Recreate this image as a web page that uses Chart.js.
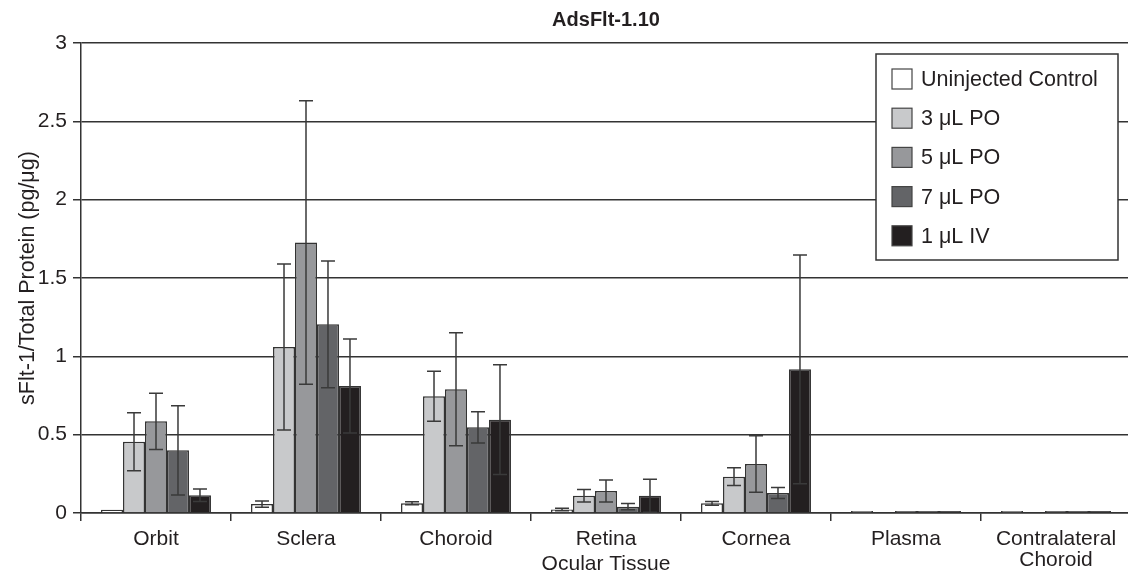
<!DOCTYPE html>
<html>
<head>
<meta charset="utf-8">
<title>AdsFlt-1.10</title>
<script src="https://cdn.jsdelivr.net/npm/chart.js@4.4.0/dist/chart.umd.min.js"></script>
<style>
  html, body { margin: 0; padding: 0; background: #fff; overflow: hidden; }
  #wrap { position: relative; width: 1131px; height: 578px; }
</style>
</head>
<body>
<div id="wrap"><canvas id="tissueChart"></canvas></div>
<script>
// categories along the x axis
const tissues = ['Orbit', 'Sclera', 'Choroid', 'Retina', 'Cornea', 'Plasma', ['Contralateral', 'Choroid']];

// series names
const seriesLabels = ['Uninjected Control', '3 \u03bcL PO', '5 \u03bcL PO', '7 \u03bcL PO', '1 \u03bcL IV'];

// mean values
const uninjected = [0.02, 0.057, 0.062, 0.023, 0.062, 0.012, 0.012];
const po3 = [0.455, 1.06, 0.745, 0.11, 0.232, 0, 0];
const po5 = [0.585, 1.727, 0.79, 0.14, 0.313, 0.012, 0.012];
const po7 = [0.40, 1.204, 0.547, 0.04, 0.128, 0.012, 0.012];
const iv1 = [0.113, 0.81, 0.596, 0.11, 0.917, 0.012, 0.012];

// error bar half lengths
const uninjectedErr = [0, 0.02, 0.01, 0.008, 0.012, 0, 0];
const po3Err = [0.185, 0.53, 0.16, 0.04, 0.057, 0, 0];
const po5Err = [0.18, 0.905, 0.36, 0.07, 0.18, 0, 0];
const po7Err = [0.285, 0.405, 0.1, 0.02, 0.035, 0, 0];
const iv1Err = [0.04, 0.3, 0.35, 0.105, 0.73, 0, 0];

const yTicks = [0, 0.5, 1, 1.5, 2, 2.5, 3];

const fills = ['#ffffff', '#c8c9cb', '#97989b', '#636467', '#231f20'];
const allValues = [uninjected, po3, po5, po7, iv1];
const allErrors = [uninjectedErr, po3Err, po5Err, po7Err, iv1Err];

const fontFamily = "'Liberation Sans', Arial, Helvetica, sans-serif";
const ink = '#231f20';

// error bars drawn with the y scale of the chart
const errorBars = {
    id: 'errorBars',
    afterDatasetsDraw(chart) {
        const ctx = chart.ctx;
        const y = chart.scales.y;
        ctx.save();
        ctx.strokeStyle = '#3a3a3a';
        ctx.lineWidth = 1.5;
        chart.data.datasets.forEach((ds, di) => {
            const meta = chart.getDatasetMeta(di);
            meta.data.forEach((bar, i) => {
                const err = ds.errors[i];
                if (!err) return;
                const v = ds.data[i];
                const top = y.getPixelForValue(v + err);
                const bottom = y.getPixelForValue(Math.max(0, v - err));
                const half = 7;
                ctx.beginPath();
                ctx.moveTo(bar.x, top);
                ctx.lineTo(bar.x, bottom);
                ctx.moveTo(bar.x - half, top);
                ctx.lineTo(bar.x + half, top);
                ctx.moveTo(bar.x - half, bottom);
                ctx.lineTo(bar.x + half, bottom);
                ctx.stroke();
            });
        });
        ctx.restore();
    }
};

// boxed legend inside the plot, top right
const boxLegend = {
    id: 'boxLegend',
    afterDraw(chart) {
        const ctx = chart.ctx;
        const area = chart.chartArea;
        const left = area.right - 255;
        const top = area.top + 11;
        const w = 242, h = 206;
        ctx.save();
        ctx.fillStyle = '#ffffff';
        ctx.fillRect(left, top, w, h);
        ctx.strokeStyle = '#333333';
        ctx.lineWidth = 1.5;
        ctx.strokeRect(left, top, w, h);
        ctx.font = '21.5px ' + fontFamily;
        ctx.textBaseline = 'middle';
        chart.data.datasets.forEach((ds, i) => {
            const cy = top + 25 + i * 39.2;
            ctx.fillStyle = ds.backgroundColor;
            ctx.fillRect(left + 16, cy - 10, 20, 20);
            ctx.strokeStyle = '#444444';
            ctx.lineWidth = 1.2;
            ctx.strokeRect(left + 16, cy - 10, 20, 20);
            ctx.fillStyle = ink;
            ctx.fillText(ds.label, left + 45, cy + 1);
        });
        ctx.restore();
    }
};

const ctx = document.getElementById('tissueChart').getContext('2d');
const tissueChart = new Chart(ctx, {
    type: 'bar',
    data: {
        labels: tissues,
        datasets: seriesLabels.map((label, i) => ({
            label: label,
            data: allValues[i],
            errors: allErrors[i],
            backgroundColor: fills[i],
            borderColor: '#333333',
            borderWidth: 1.5,
            barPercentage: 1,
            categoryPercentage: 0.733
        }))
    },
    options: {
        responsive: true,
        maintainAspectRatio: false,
        animation: false,
        layout: { padding: 0 },
        plugins: {
            legend: { display: false },
            tooltip: { enabled: false },
            title: {
                display: true,
                fullSize: false,
                text: 'AdsFlt-1.10',
                color: ink,
                font: { family: fontFamily, size: 20, weight: 'bold' },
                padding: { top: 8, bottom: 11 }
            }
        },
        scales: {
            x: {
                grid: {
                    display: true,
                    drawOnChartArea: false,
                    drawTicks: true,
                    tickLength: 8,
                    color: '#333333',
                    lineWidth: 1.5
                },
                border: { display: true, color: '#333333', width: 1.5 },
                ticks: {
                    color: ink,
                    font: { family: fontFamily, size: 21, lineHeight: 1.0 },
                    padding: 7.5,
                    maxRotation: 0,
                    autoSkip: false
                },
                title: {
                    display: true,
                    text: 'Ocular Tissue',
                    color: ink,
                    font: { family: fontFamily, size: 21 },
                    padding: { top: 0, bottom: 1 }
                },
                afterFit(scale) { scale.height = 65; }
            },
            y: {
                min: 0,
                max: 3,
                afterBuildTicks(scale) { scale.ticks = yTicks.map(v => ({ value: v })); },
                grid: {
                    color: '#333333',
                    lineWidth: 1.5,
                    tickLength: 8
                },
                border: { display: true, color: '#333333', width: 1.5 },
                ticks: {
                    color: ink,
                    font: { family: fontFamily, size: 21 },
                    padding: 6,
                    callback: v => String(v)
                },
                title: {
                    display: true,
                    text: 'sFlt-1/Total Protein (pg/\u03bcg)',
                    color: ink,
                    font: { family: fontFamily, size: 21.5 },
                    padding: { top: 15, bottom: 0 }
                },
                afterFit(scale) { scale.width = 81; }
            }
        }
    },
    plugins: [errorBars, boxLegend]
});
</script>
</body>
</html>
